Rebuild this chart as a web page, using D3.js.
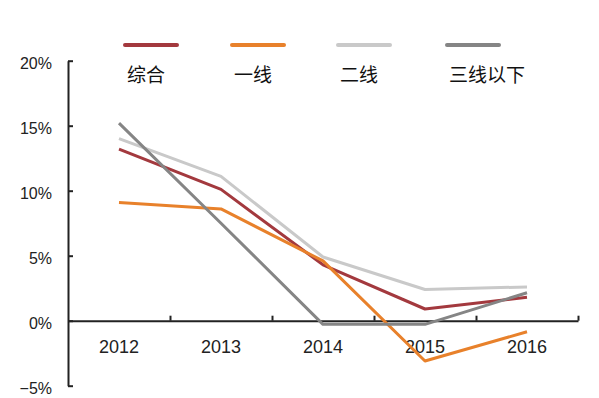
<!DOCTYPE html>
<html><head><meta charset="utf-8">
<script src="https://cdn.jsdelivr.net/npm/d3@7"></script>
<style>
html,body{margin:0;padding:0;background:#fff;}
svg{display:block;}
</style></head>
<body>
<svg id="c" width="599" height="398"></svg>
<script>
const years = ["2012","2013","2014","2015","2016"];
const seriesNames = ["综合","一线","二线","三线以下"];
const zonghe = [13.2, 10.1, 4.3, 0.9, 1.8];
const yixian = [9.1, 8.6, 4.6, -3.1, -0.85];
const erxian = [14.0, 11.1, 4.9, 2.4, 2.6];
const sanxian = [15.2, 7.5, -0.28, -0.28, 2.15];
const yTicks = [-5, 0, 5, 10, 15, 20];
const colors = ["#A3393E", "#E8812B", "#C9C9C9", "#858585"];

const svg = d3.select("#c");
const pLeft = 68, pRight = 578, pTop = 60.7, pBottom = 385.7;

const x = d3.scaleBand().domain(years).range([pLeft, pRight]);
const xEdges = d3.scaleLinear().domain([0, years.length]).range([pLeft, pRight]);
const y = d3.scaleLinear().domain([-5, 20]).range([pBottom, pTop]);

const axisColor = "#222";

// y axis
const yAxis = svg.append("g").attr("transform", `translate(${pLeft},0)`)
  .call(d3.axisLeft(y).tickValues(yTicks).tickSizeInner(-5).tickSizeOuter(0).tickPadding(16)
    .tickFormat(d => (d < 0 ? "\u2212" + Math.abs(d) : d) + "%"));
yAxis.select(".domain").attr("stroke", axisColor).attr("stroke-width", 2);
yAxis.selectAll(".tick line").attr("stroke", axisColor).attr("stroke-width", 2);
yAxis.selectAll(".tick text").attr("font-family", "Liberation Sans, Arial, sans-serif")
  .attr("font-size", 16).attr("fill", "#222").attr("dy", "0.5em");

// x axis edges
const xEdgeAxis = svg.append("g").attr("transform", `translate(0,${y(0)})`)
  .call(d3.axisBottom(xEdges).tickValues(d3.range(1, years.length + 1)).tickSizeInner(-5).tickSizeOuter(0).tickFormat(""));
xEdgeAxis.select(".domain").attr("stroke", axisColor).attr("stroke-width", 2);
xEdgeAxis.selectAll(".tick line").attr("stroke", axisColor).attr("stroke-width", 2);

// x labels
const xAxis = svg.append("g").attr("transform", `translate(0,${y(0)})`)
  .call(d3.axisBottom(x).tickSize(0).tickPadding(20));
xAxis.select(".domain").remove();
xAxis.selectAll(".tick text").attr("font-family", "Liberation Sans, Arial, sans-serif")
  .attr("font-size", 18).attr("fill", "#222");

// lines
const allSeries = [zonghe, yixian, erxian, sanxian];
const line = d3.line().x((d, i) => x(years[i]) + x.bandwidth() / 2).y(d => y(d));
allSeries.forEach((s, k) => {
  svg.append("path").datum(s).attr("d", line).attr("fill", "none")
    .attr("stroke", colors[k]).attr("stroke-width", 3).attr("stroke-linejoin", "round");
});

// legend
const legendX = [125, 232, 338, 447];
const lg = svg.append("g");
seriesNames.forEach((n, k) => {
  lg.append("line").attr("x1", legendX[k]).attr("x2", legendX[k] + 52)
    .attr("y1", 45).attr("y2", 45).attr("stroke", colors[k]).attr("stroke-width", 4)
    .attr("stroke-linecap", "round");
  lg.append("text").attr("x", legendX[k] + 2).attr("y", 73)
    .attr("dominant-baseline", "central")
    .attr("font-family", "Noto Sans CJK SC, sans-serif").attr("font-size", 19)
    .attr("fill", "#111").text(n);
});
</script>
</body></html>
